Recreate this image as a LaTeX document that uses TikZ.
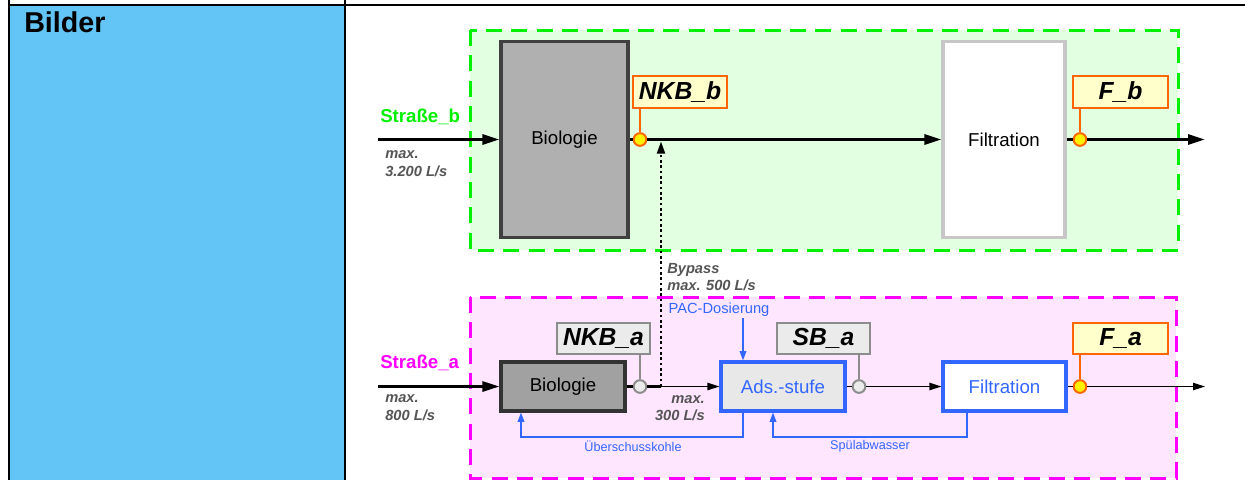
\documentclass[tikz,border=0pt]{standalone}
\usepackage{fontspec}
\setmainfont{Liberation Sans}
\usepackage{xcolor}
\usetikzlibrary{arrows.meta,positioning}

\definecolor{cellblue}{HTML}{62C5F6}
\definecolor{strbgreen}{HTML}{00F000}
\definecolor{strbfill}{HTML}{E2FFE2}
\definecolor{strapink}{HTML}{FF00FF}
\definecolor{strafill}{HTML}{FFE6FF}
\definecolor{tagorange}{HTML}{FF6600}
\definecolor{tagyellow}{HTML}{FFFFCC}
\definecolor{flowblue}{HTML}{3366FF}
\definecolor{notegray}{HTML}{555555}

\begin{document}
\begin{tikzpicture}[
  x=0.75pt, y=-0.75pt,
  font=\fontsize{14}{16}\selectfont,
  frame/.style={line width=1.5pt, black},
  region/.style={line width=2.25pt, dash pattern=on 12pt off 7pt},
  block/.style={draw, line width=2.3pt, minimum width=93pt,
                minimum height=36.75pt, inner sep=0pt},
  tag/.style={draw=tagorange, fill=tagyellow, line width=1.5pt,
              minimum width=70.5pt, minimum height=24pt, inner sep=0pt,
              font=\fontsize{18.5}{20}\selectfont\bfseries\itshape},
  graytag/.style={tag, draw=black!45, fill=black!8},
  probe/.style={circle, draw=tagorange, fill=yellow, line width=1.5pt,
                minimum size=9.5pt, inner sep=0pt},
  grayprobe/.style={probe, draw=black!45, fill=black!8},
  note/.style={font=\fontsize{11}{12.75}\selectfont\bfseries\itshape,
               text=notegray, inner sep=0pt},
  small/.style={font=\fontsize{9.5}{11}\selectfont, text=flowblue, inner sep=0pt},
  strlabel/.style={font=\fontsize{14}{16}\selectfont\bfseries, inner sep=0pt},
  arr/.style={-{Triangle[length=12.75pt, width=7.5pt]}, line width=2.2pt},
  thinarr/.style={-{Triangle[length=9pt, width=5.5pt]}, line width=1pt},
  fbarr/.style={-{Triangle[length=7pt, width=5pt]}, line width=1pt, flowblue},
  bypass/.style={-{Triangle[length=9pt, width=6pt]}, line width=1.5pt,
                 dash pattern=on 2pt off 2pt}
]
\useasboundingbox (0,0) rectangle (1245,480);
% --- table frame ---
\fill[cellblue] (9,5) rectangle (345,480);
\draw[frame] (9,0) -- (9,480);
\draw[frame] (345,0) -- (345,480);
\draw[frame] (9,5) -- (1245,5);
\node[anchor=base west, inner sep=0pt, font=\fontsize{21.5}{24}\selectfont\bfseries]
  (title) at (24,32.5) {Bilder};
% --- regions ---
\fill[strbfill] (470,30) rectangle (1178,250);
\draw[region, strbgreen] (470,30) rectangle (1178,250);
\fill[strafill] (470,297) rectangle (1176,478);
\draw[region, strapink] (470,297) rectangle (1176,478);
% --- Strasse b ---
\node[block, draw=black!75, fill=black!31, minimum height=147pt, minimum width=95.25pt]
  (biob) at (564.5,139.5) {Biologie};
\node[block, draw=black!22, fill=white, minimum height=147pt, minimum width=91.5pt]
  (filtb) at (1004,139.5) {Filtration};
\node[probe] (pb1) at (640,139.5) {};
\node[probe] (pb2) at (1080,139.5) {};
\node[tag] (nkbb) at (680,92) {NKB\_b};
\node[tag, minimum width=71.25pt] (fb) at (1120.5,92) {F\_b};
\coordinate (inb) at (378,139.5);
\coordinate (outb) at (1205,139.5);
\node[strlabel, text=strbgreen, anchor=base west] (strb) at (380,122) {Straße\_b};
\node[note, anchor=north west, align=left] (maxb) at (385,150) {max.\\[1pt]3.200 L/s};
% --- Strasse a ---
\node[block, draw=black!80, fill=black!37] (bioa) at (563,386.5) {Biologie};
\node[block, draw=flowblue, fill=black!9, text=flowblue] (ads) at (783,386.5) {Ads.-stufe};
\node[block, draw=flowblue, fill=white, text=flowblue, minimum width=92.25pt]
  (filta) at (1004.5,386.5) {Filtration};
\node[grayprobe] (pa1) at (640,386.5) {};
\node[grayprobe] (pa2) at (859,386.5) {};
\node[probe] (pa3) at (1080,386.5) {};
\node[graytag, minimum width=69.75pt, minimum height=23.25pt] (nkba) at (603.5,338.5) {NKB\_a};
\node[graytag, minimum width=69.75pt, minimum height=23.25pt] (sba) at (823.5,338.5) {SB\_a};
\node[tag, minimum width=71.25pt, minimum height=23.25pt] (fa) at (1120.5,338.5) {F\_a};
\coordinate (ina) at (378,386.5);
\coordinate (outa) at (1205,386.5);
\coordinate (byp) at (661,386.5);
\coordinate (pacx) at (743,318);
\coordinate (ubk) at (521,437);
\coordinate (spw) at (773,437);
\node[strlabel, text=strapink, anchor=base west] (stra) at (380,368) {Straße\_a};
\node[note, anchor=north west, align=left] (maxa) at (385,394) {max.\\[1pt]800 L/s};
\node[note, anchor=north east, align=right] (max300) at (705,395) {max.\\300 L/s};
\node[note, anchor=north west, align=left] (byplabel) at (667,263) {Bypass\\max. 500 L/s};
\node[small, font=\fontsize{11}{12}\selectfont] (pac) at (719,310) {PAC-Dosierung};
\node[small] (ubklabel) at (633,446) {Überschusskohle};
\node[small] (spwlabel) at (870,446) {Spülabwasser};
% --- arrows b ---
\draw[arr] (inb) -- (biob.west);
\draw[line width=2.2pt] (biob.east) -- (pb1.west);
\draw[arr] (pb1.east) -- (filtb.west);
\draw[line width=2.2pt] (filtb.east) -- (pb2.west);
\draw[arr] (pb2.east) -- (outb);
\draw[tagorange, line width=1.5pt] (nkbb.south -| pb1) -- (pb1.north);
\draw[tagorange, line width=1.5pt] (fb.south -| pb2) -- (pb2.north);
% --- arrows a ---
\draw[arr, line width=2pt] (ina) -- (bioa.west);
\draw[line width=2pt] (bioa.east) -- (pa1.west);
\draw[line width=2pt] (pa1.east) -- (byp);
\draw[thinarr] (byp) -- (ads.west);
\draw[line width=1pt] (ads.east) -- (pa2.west);
\draw[thinarr] (pa2.east) -- (filta.west);
\draw[line width=1pt] (filta.east) -- (pa3.west);
\draw[thinarr] (pa3.east) -- (outa);
\draw[black!45, line width=1.5pt] (nkba.south -| pa1) -- (pa1.north);
\draw[black!45, line width=1.5pt] (sba.south -| pa2) -- (pa2.north);
\draw[tagorange, line width=1.5pt] (fa.south -| pa3) -- (pa3.north);
\draw[bypass, shorten >=1.5pt] (byp) -- (byp |- pb1);
% --- feedback ---
\draw[fbarr] (pacx) -- (pacx |- ads.north);
\draw[fbarr] (pacx |- ads.south) |- (ubk) -- (ubk |- bioa.south);
\draw[fbarr] (filta.south -| 967,0) |- (spw) -- (spw |- ads.south);
\end{tikzpicture}
\end{document}
